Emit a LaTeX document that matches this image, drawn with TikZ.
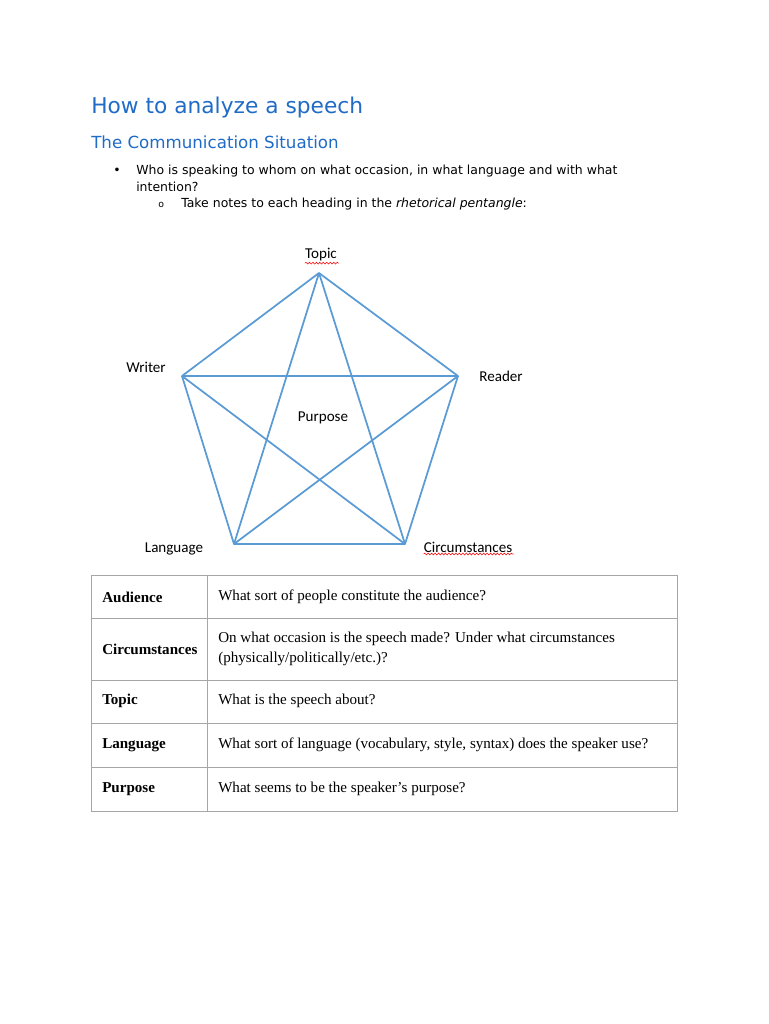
\documentclass[tikz,border=0pt]{standalone}
\usepackage{fontspec}
\setmainfont{Liberation Serif}
\newfontfamily\versans{DejaVu Sans}
\newfontfamily\calsans{Carlito}
\usetikzlibrary{decorations.pathmorphing, positioning}
\definecolor{headblue}{HTML}{1F6BC6}
\definecolor{penblue}{HTML}{5B9BD5}
\definecolor{rulegray}{HTML}{A6A6A6}
\tikzset{
  pentline/.style={draw=penblue, line width=1.3pt, line join=round},
  pentlabel/.style={font=\calsans\fontsize{11.3}{13}\selectfont, inner sep=0pt},
  spellwave/.style={draw=red, line width=0.4pt, decorate, decoration={snake, amplitude=0.7pt, segment length=2.6pt}},
  bodytext/.style={font=\versans\fontsize{9.35}{11}\selectfont, anchor=west, inner sep=0pt},
  cellhead/.style={font=\bfseries\fontsize{11.3}{13}\selectfont, anchor=west, inner sep=0pt},
  celltext/.style={font=\fontsize{11.3}{14.5}\selectfont, anchor=west, inner sep=0pt, align=left},
  tablerule/.style={draw=rulegray, line width=0.7pt}
}
\begin{document}
\begin{tikzpicture}[x=0.75pt, y=-0.75pt]
  \useasboundingbox[fill=white] (0,0) rectangle (768,1024);
  % headings
  \node[anchor=west, inner sep=0pt, text=headblue, font=\versans\fontsize{16.3}{19}\selectfont] (title) at (91,108) {How to analyze a speech};
  \node[anchor=west, inner sep=0pt, text=headblue, font=\versans\fontsize{12.5}{15}\selectfont] (subtitle) at (91,142) {The Communication Situation};
  % bullets
  \node[bodytext] (dot) at (113,171) {\textbullet};
  \node[bodytext] (qline) at (136,171) {Who is speaking to whom on what occasion, in what language and with what};
  \node[bodytext] (qline2) at (136,187) {intention?};
  \node[bodytext, font=\versans\fontsize{7}{9}\selectfont] (circ) at (158,205) {o};
  \node[bodytext] (note) at (181,204) {Take notes to each heading in the \textit{rhetorical pentangle}:};
  % pentangle corners
  \coordinate (topic) at (319,273);
  \coordinate (writer) at (182,376);
  \coordinate (reader) at (458,376);
  \coordinate (lang) at (234,544);
  \coordinate (circs) at (405,544);
  % outer ring and star
  \draw[pentline] (topic) -- (reader) -- (circs) -- (lang) -- (writer) -- cycle;
  \draw[pentline] (topic) -- (lang); \draw[pentline] (topic) -- (circs);
  \draw[pentline] (writer) -- (reader); \draw[pentline] (writer) -- (circs);
  \draw[pentline] (reader) -- (lang);
  % corner labels
  \node[pentlabel] (topiclbl) at (321,255) {Topic};
  \node[pentlabel] (writerlbl) at (146,367) {Writer};
  \node[pentlabel] (readerlbl) at (501,376) {Reader};
  \node[pentlabel] (purposelbl) at (323,418) {Purpose};
  \node[pentlabel] (langlbl) at (174,549) {Language};
  \node[pentlabel] (circslbl) at (468,547) {Circumstances};
  \draw[spellwave] (topiclbl.south west) ++(0,1.5) -- ++(34,0);
  \draw[spellwave] (circslbl.south west) ++(0,1.5) -- ++(90,0);
  % table grid
  \draw[tablerule] (91,575) rectangle (677,811);
  \draw[tablerule] (207,575) -- (207,811);
  \foreach \ry in {618,680,723,767} \draw[tablerule] (91,\ry) -- (677,\ry);
  % table rows
  \node[cellhead] (aud) at (102,597) {Audience};
  \node[celltext] (audtxt) at (218,597) {What sort of people constitute the audience?};
  \node[cellhead] (cir) at (102,649) {Circumstances};
  \node[celltext] (cirtxt) at (218,649) {On what occasion is the speech made? Under what circumstances\\(physically/politically/etc.)?};
  \node[cellhead] (top) at (102,701) {Topic};
  \node[celltext] (toptxt) at (218,701) {What is the speech about?};
  \node[cellhead] (lan) at (102,745) {Language};
  \node[celltext] (lantxt) at (218,745) {What sort of language (vocabulary, style, syntax) does the speaker use?};
  \node[cellhead] (pur) at (102,789) {Purpose};
  \node[celltext] (purtxt) at (218,789) {What seems to be the speaker's purpose?};
\end{tikzpicture}
\end{document}
